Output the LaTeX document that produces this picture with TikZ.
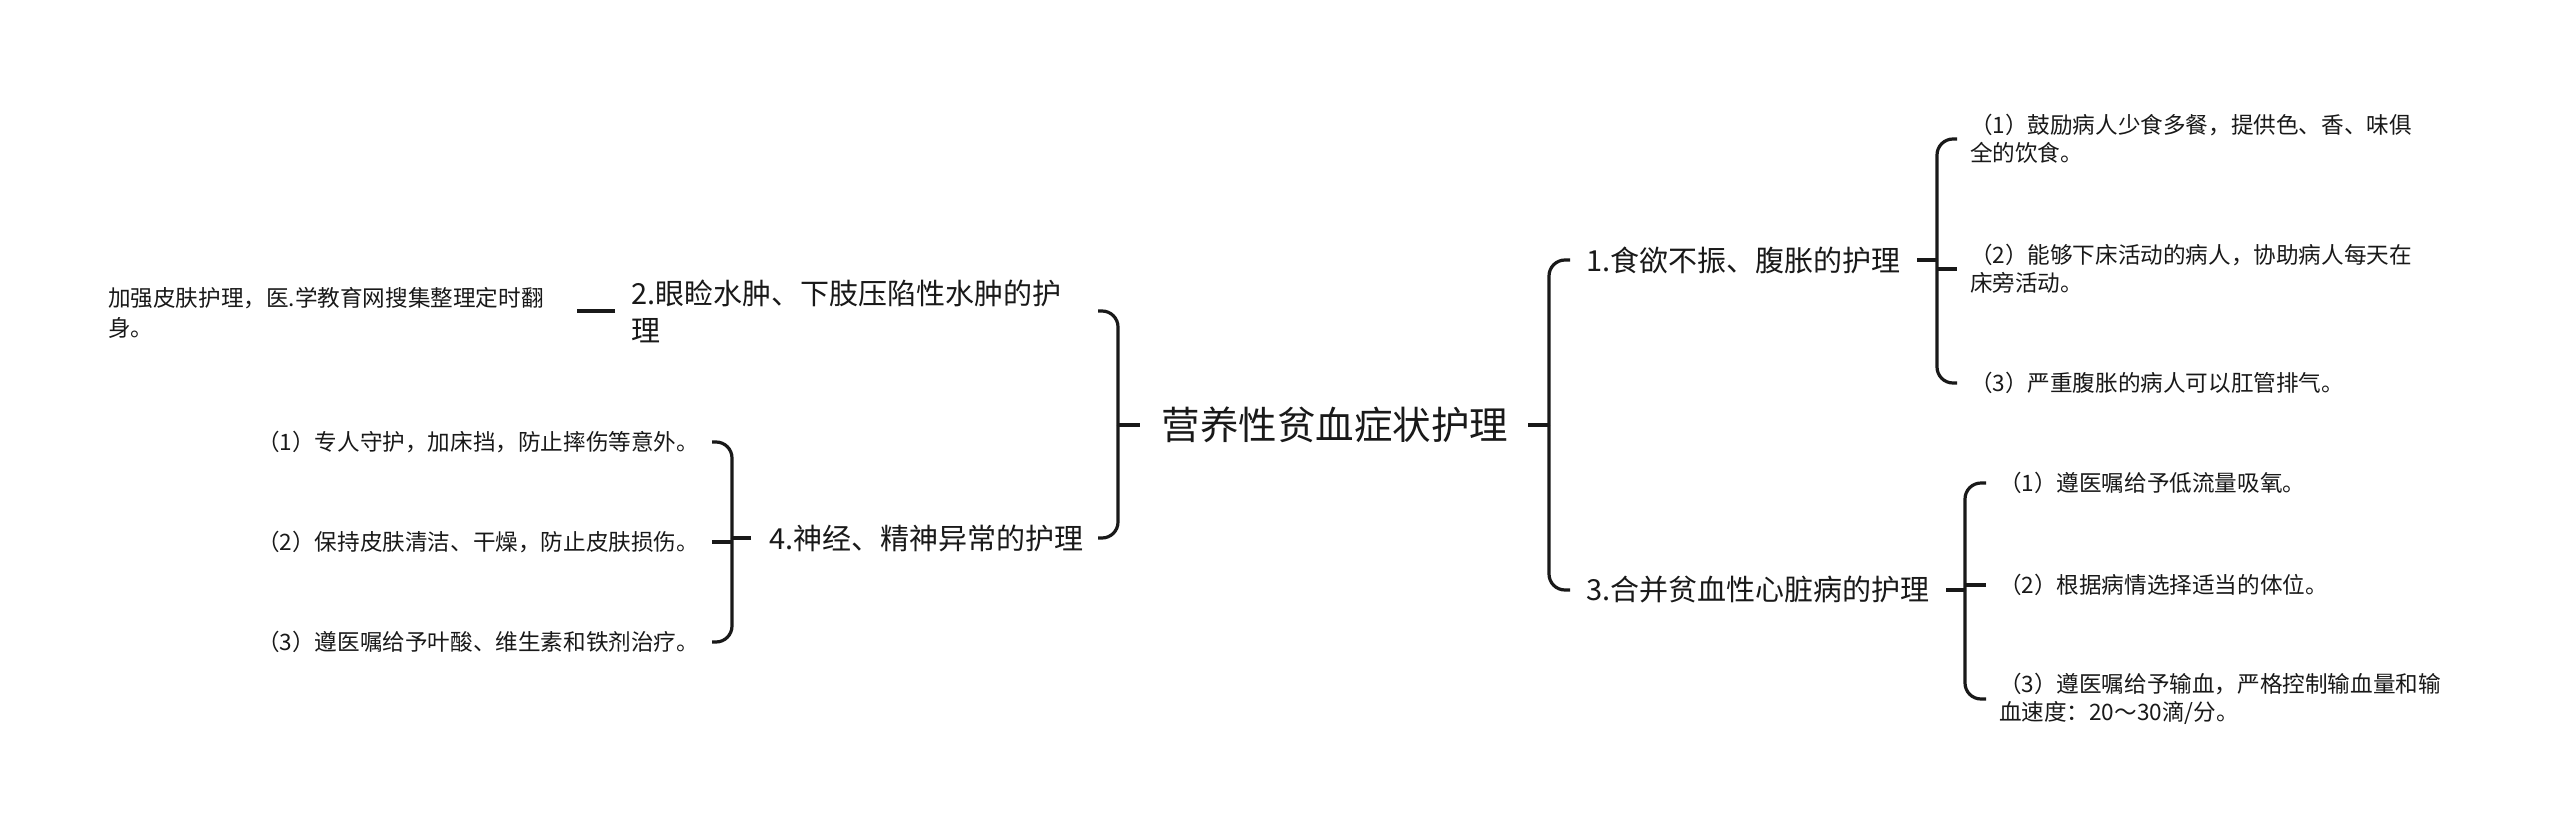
\documentclass[tikz,border=0pt]{standalone}
\usepackage{fontspec}
\setmainfont{Noto Sans CJK SC}
\usetikzlibrary{calc}
\definecolor{tcol}{RGB}{25,25,25}
\definecolor{lcol}{RGB}{25,25,25}
\tikzset{
  txt/.style={inner sep=0pt, outer sep=0pt, text=tcol, align=left},
  rootnode/.style={txt, font=\fontsize{38.5}{46}\selectfont},
  lvlone/.style={txt, font=\fontsize{29}{37}\selectfont},
  lvltwo/.style={txt, font=\fontsize{22.6}{28}\selectfont},
  leafnote/.style={txt, font=\fontsize{22.6}{30}\selectfont},
  link/.style={draw=lcol, line width=3.2pt},
  elbow/.style={link, rounded corners=16pt},
}
\begin{document}
\begin{tikzpicture}[x=1pt,y=-1pt]
\useasboundingbox[fill=white] (0,0) rectangle (2560,835);

% nodes
\node[rootnode] (root) at (1335,425) {营养性贫血症状护理};
\node[lvlone, anchor=west] (n1) at (1586,260) {1.食欲不振、腹胀的护理};
\node[lvlone, anchor=west] (n3) at (1586,590) {3.合并贫血性心脏病的护理};
\node[lvlone, anchor=west] (n2) at (631,311) {2.眼睑水肿、下肢压陷性水肿的护\\理};
\node[lvlone, anchor=west] (n4) at (769,538) {4.神经、精神异常的护理};

\node[lvltwo, anchor=west] (c11) at (1970,139) {（1）鼓励病人少食多餐，提供色、香、味俱\\全的饮食。};
\node[lvltwo, anchor=west] (c12) at (1970,269) {（2）能够下床活动的病人，协助病人每天在\\床旁活动。};
\node[lvltwo, anchor=west] (c13) at (1970,383) {（3）严重腹胀的病人可以肛管排气。};

\node[lvltwo, anchor=west] (c31) at (1999,483) {（1）遵医嘱给予低流量吸氧。};
\node[lvltwo, anchor=west] (c32) at (1999,585) {（2）根据病情选择适当的体位。};
\node[lvltwo, anchor=west] (c33) at (1999,699) {（3）遵医嘱给予输血，严格控制输血量和输\\血速度：20～30滴/分。};

\node[lvltwo, anchor=east] (c41) at (699,442) {（1）专人守护，加床挡，防止摔伤等意外。};
\node[lvltwo, anchor=east] (c42) at (699,542) {（2）保持皮肤清洁、干燥，防止皮肤损伤。};
\node[lvltwo, anchor=east] (c43) at (699,642) {（3）遵医嘱给予叶酸、维生素和铁剂治疗。};

\node[leafnote, anchor=west] (leaf) at (108,313) {加强皮肤护理，医.学教育网搜集整理定时翻\\身。};

% spines
\coordinate (rs) at (1549,0);
\coordinate (ls) at (1118,0);
\coordinate (s1) at (1937,0);
\coordinate (s3) at (1965,0);
\coordinate (s4) at (732,0);

% root right
\draw[link, shorten <=20pt] (root.east) -- (root.east -| rs);
\draw[elbow, shorten >=16pt] (root.east -| rs) |- (n1.west);
\draw[elbow, shorten >=16pt] (root.east -| rs) |- (n3.west);

% root left
\draw[link, shorten <=22pt] (root.west) -- (root.west -| ls);
\draw[elbow, shorten >=37pt] (root.west -| ls) |- (n2.east);
\draw[elbow, shorten >=15pt] (root.west -| ls) |- (n4.east);

% group 1
\draw[link, shorten <=17pt] (n1.east) -- (n1.east -| s1);
\draw[elbow, shorten >=13pt] (n1.east -| s1) |- (c11.west);
\draw[elbow, shorten >=13pt] (n1.east -| s1) |- (c13.west);
\draw[link, shorten >=13pt] (c12.west -| s1) -- (c12.west);

% group 3
\draw[link, shorten <=17pt] (n3.east) -- (n3.east -| s3);
\draw[elbow, shorten >=13pt] (n3.east -| s3) |- (c31.west);
\draw[elbow, shorten >=13pt] (n3.east -| s3) |- (c33.west);
\draw[link, shorten >=13pt] (c32.west -| s3) -- (c32.west);

% group 4
\draw[link, shorten <=18pt] (n4.west) -- (n4.west -| s4);
\draw[elbow, shorten >=13pt] (n4.west -| s4) |- (c41.east);
\draw[elbow, shorten >=13pt] (n4.west -| s4) |- (c43.east);
\draw[link, shorten >=13pt] (c42.east -| s4) -- (c42.east);

% group 2
\draw[link, shorten <=16pt, shorten >=33pt] (n2.west) -- (n2.west -| leaf.east);
\end{tikzpicture}
\end{document}
